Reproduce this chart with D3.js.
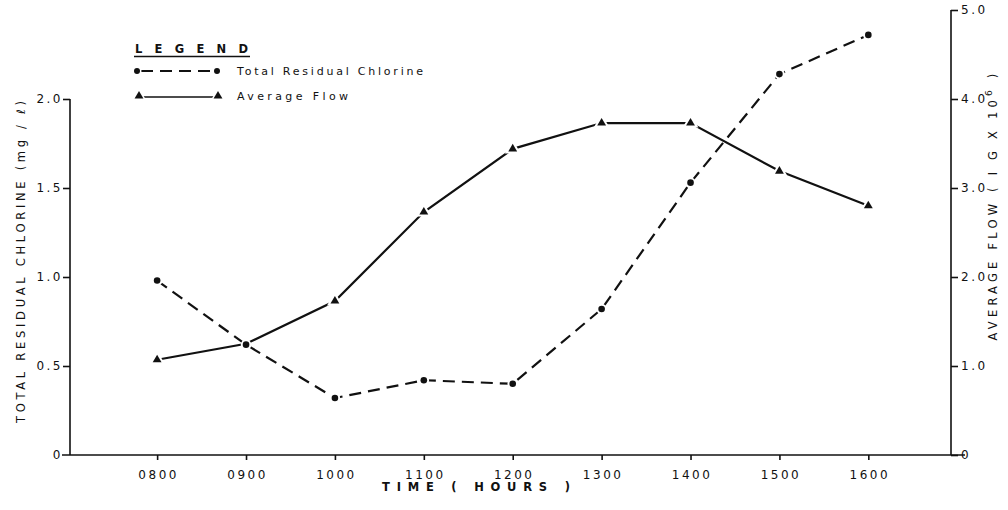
<!DOCTYPE html>
<html>
<head>
<meta charset="utf-8">
<title>Chlorine and flow</title>
<script src="https://cdn.jsdelivr.net/npm/d3@7"></script>
<style>
  body { margin: 0; background: #fff; }
  text { font-family: "DejaVu Sans", sans-serif; fill: #111; }
  .tick text { font-size: 12px; letter-spacing: 2.5px; }
  .tick line { stroke: #111; stroke-width: 1.6; }
</style>
</head>
<body>
<script>
//////////// data ////////////
var hours    = [8, 9, 10, 11, 12, 13, 14, 15, 16];
var hourLbl  = ["0800", "0900", "1000", "1100", "1200", "1300", "1400", "1500", "1600"];
var chlorine = [0.98, 0.62, 0.32, 0.42, 0.40, 0.82, 1.53, 2.14, 2.36];   // mg/l, left axis
var flow     = [1.07, 1.25, 1.73, 2.73, 3.44, 3.73, 3.73, 3.19, 2.80];   // IG x 10^6, right axis
var leftTicks  = [0, 0.5, 1.0, 1.5, 2.0];
var rightTicks = [0, 1.0, 2.0, 3.0, 4.0, 5.0];
var legendNames = ["Total Residual Chlorine", "Average Flow"];

var w = 1008, h = 510;
var svg = d3.select("body").append("svg").attr("width", w).attr("height", h);

/////// scales
var x = d3.scaleLinear().domain([7.02, 16.93]).range([70, 951]);
var yL = d3.scaleLinear().domain([0, 2.5]).range([455, 10]);
var yR = d3.scaleLinear().domain([0, 5]).range([455, 10]);

var fmt = function(d){ return d === 0 ? "0" : d3.format(".1f")(d); };

/////// axes
// base line runs a bit past both vertical axes
svg.append("line")
   .attr("x1", x(7.02) - 8).attr("x2", x(16.93) + 14)
   .attr("y1", yL(0)).attr("y2", yL(0))
   .attr("stroke", "#111").attr("stroke-width", 1.6);

var xAxis = d3.axisBottom(x).tickValues(hours)
    .tickFormat(function(d, i){ return hourLbl[i]; })
    .tickSize(5).tickPadding(10);
var gx = svg.append("g").attr("transform", "translate(0," + yL(0) + ")").call(xAxis);
gx.select(".domain").remove();
gx.selectAll(".tick text").attr("dx", "1px");

var yAxisL = d3.axisLeft(yL).tickValues(leftTicks).tickFormat(fmt).tickSize(7).tickPadding(0);
var gl = svg.append("g").attr("transform", "translate(" + x(7.02) + ",0)").call(yAxisL);
gl.select(".domain").remove();
gl.select(".tick:first-of-type line").remove();
svg.append("line").attr("x1", x(7.02)).attr("x2", x(7.02))
   .attr("y1", yL(0)).attr("y2", yL(2.0))
   .attr("stroke", "#111").attr("stroke-width", 1.6);

var yAxisR = d3.axisRight(yR).tickValues(rightTicks).tickFormat(fmt).tickSize(7).tickPadding(3);
var gr = svg.append("g").attr("transform", "translate(" + x(16.93) + ",0)").call(yAxisR);
gr.select(".domain").remove();
svg.append("line").attr("x1", x(16.93)).attr("x2", x(16.93))
   .attr("y1", yR(0)).attr("y2", yR(5))
   .attr("stroke", "#111").attr("stroke-width", 1.6);

/////// axis titles
svg.append("text")
   .attr("transform", "translate(25,262) rotate(-90)")
   .attr("text-anchor", "middle")
   .attr("font-size", 11.5)
   .attr("textLength", 322).attr("lengthAdjust", "spacing")
   .text("TOTAL RESIDUAL CHLORINE (mg / \u2113)");

var rt = svg.append("text")
   .attr("transform", "translate(997,205) rotate(-90)")
   .attr("text-anchor", "middle")
   .attr("font-size", 11.5)
   .attr("letter-spacing", "4.2px");
rt.append("tspan").text("AVERAGE FLOW ( I G X 10");
rt.append("tspan").attr("dy", -5).attr("font-size", 9).text("6");
rt.append("tspan").attr("dy", 5).text(" )");

svg.append("text")
   .attr("x", 476).attr("y", 491)
   .attr("text-anchor", "middle")
   .attr("font-size", 11.5).attr("font-weight", "bold")
   .attr("textLength", 188).attr("lengthAdjust", "spacing")
   .text("TIME ( HOURS )");

/////// series lines
var pts = hours.map(function(hr, i){
  return { h: hr, c: chlorine[i], f: flow[i] };
});

var lineC = d3.line().x(function(d){ return x(d.h); }).y(function(d){ return yL(d.c); });
var lineF = d3.line().x(function(d){ return x(d.h); }).y(function(d){ return yR(d.f); });

svg.append("path").datum(pts).attr("d", lineF)
   .attr("fill", "none").attr("stroke", "#111").attr("stroke-width", 2.2);
svg.append("path").datum(pts).attr("d", lineC)
   .attr("fill", "none").attr("stroke", "#111").attr("stroke-width", 2.2)
   .attr("stroke-dasharray", "12,7");

var tri = d3.symbol().type(d3.symbolTriangle).size(34);

// triangles (skip where the flow point sits on a chlorine dot)
svg.selectAll(".tri")
   .data(pts.filter(function(d){ return Math.abs(yR(d.f) - yL(d.c)) > 4; }))
   .enter().append("path")
   .attr("class", "tri")
   .attr("d", tri)
   .attr("transform", function(d){ return "translate(" + x(d.h) + "," + yR(d.f) + ")"; })
   .attr("fill", "#111").attr("stroke", "#fff").attr("stroke-width", 4)
   .attr("paint-order", "stroke");

svg.selectAll(".dot")
   .data(pts).enter().append("circle")
   .attr("class", "dot")
   .attr("cx", function(d){ return x(d.h); })
   .attr("cy", function(d){ return yL(d.c); })
   .attr("r", 3.3)
   .attr("fill", "#111").attr("stroke", "#fff").attr("stroke-width", 4)
   .attr("paint-order", "stroke");

/////// legend
var lg = svg.append("g");
lg.append("text").attr("x", 135).attr("y", 53)
  .attr("font-size", 11.5).attr("font-weight", "bold")
  .attr("textLength", 113).attr("lengthAdjust", "spacing")
  .text("LEGEND");
lg.append("line").attr("x1", 134).attr("x2", 250).attr("y1", 56.5).attr("y2", 56.5)
  .attr("stroke", "#111").attr("stroke-width", 1.6);

// row 1: chlorine
lg.append("line").attr("x1", 137).attr("x2", 217).attr("y1", 71).attr("y2", 71)
  .attr("stroke", "#111").attr("stroke-width", 2).attr("stroke-dasharray", "12,7")
  .attr("stroke-dashoffset", -4);
[137, 217].forEach(function(px){
  lg.append("circle").attr("cx", px).attr("cy", 71).attr("r", 3)
    .attr("fill", "#111").attr("stroke", "#fff").attr("stroke-width", 3).attr("paint-order", "stroke");
});
lg.append("text").attr("x", 237).attr("y", 75)
  .attr("font-size", 11).attr("textLength", 186).attr("lengthAdjust", "spacing")
  .text(legendNames[0]);

// row 2: flow
lg.append("line").attr("x1", 139).attr("x2", 218).attr("y1", 97).attr("y2", 97)
  .attr("stroke", "#111").attr("stroke-width", 1.3);
[139, 218].forEach(function(px){
  lg.append("path").attr("d", tri)
    .attr("transform", "translate(" + px + ",96)")
    .attr("fill", "#111").attr("stroke", "#fff").attr("stroke-width", 3).attr("paint-order", "stroke");
});
lg.append("text").attr("x", 237).attr("y", 100)
  .attr("font-size", 11).attr("textLength", 111).attr("lengthAdjust", "spacing")
  .text(legendNames[1]);
</script>
</body>
</html>
